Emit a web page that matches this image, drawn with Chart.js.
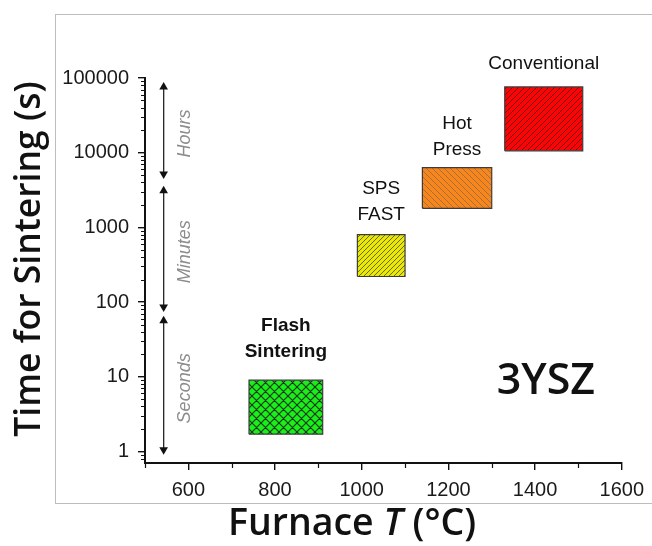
<!DOCTYPE html>
<html>
<head>
<meta charset="utf-8">
<script src="https://cdn.jsdelivr.net/npm/chart.js@4.4.1/dist/chart.umd.min.js"></script>
<style>
  html, body { margin: 0; padding: 0; background: #fff; }
  canvas { display: block; }
</style>
</head>
<body>
<canvas id="chart" width="652" height="546"></canvas>
<script>
// Sintering methods (one box each)
const methods = ['Flash Sintering', 'SPS FAST', 'Hot Press', 'Conventional'];
const labelLines = [['Flash', 'Sintering'], ['SPS', 'FAST'], ['Hot', 'Press'], ['Conventional']];
const tempMin = [740, 990, 1140, 1330];
const tempMax = [910, 1100, 1300, 1510];
const timeMin = [1.7, 220, 1800, 10600];
const timeMax = [9, 800, 6300, 76000];

// Time-scale arrows on the left
const spanNames = ['Hours', 'Minutes', 'Seconds'];
const spanTop = [76000, 3100, 56];
const spanBottom = [5200, 86, 1.05];
const spanTemp = 543;

// Tick labels
const xTickLabels = [600, 800, 1000, 1200, 1400, 1600];
const yTickLabels = [1, 10, 100, 1000, 10000, 100000];

// Hatch patterns
function hatch(bg, line, size, width, dirs) {
    const c = document.createElement('canvas');
    c.width = size;
    c.height = size;
    const g = c.getContext('2d');
    g.fillStyle = bg;
    g.fillRect(0, 0, size, size);
    g.strokeStyle = line;
    g.lineWidth = width;
    g.beginPath();
    if (dirs.includes('/')) {
        g.moveTo(0, size); g.lineTo(size, 0);
        g.moveTo(-2, 2); g.lineTo(2, -2);
        g.moveTo(size - 2, size + 2); g.lineTo(size + 2, size - 2);
    }
    if (dirs.includes('\\')) {
        g.moveTo(0, 0); g.lineTo(size, size);
        g.moveTo(-2, size - 2); g.lineTo(2, size + 2);
        g.moveTo(size - 2, -2); g.lineTo(size + 2, 2);
    }
    g.stroke();
    return g.createPattern(c, 'repeat');
}

const ctx0 = document.getElementById('chart').getContext('2d');
const fills = [
    hatch('#19f019', '#173017', 9, 1.1, '/\\'),
    hatch('#e8e80a', '#6e6a10', 5, 1, '/'),
    hatch('#f7861c', '#a86f3c', 6, 1, '\\'),
    hatch('#fa0505', '#7a0c0c', 6, 1, '/')
];

function boxData(i) {
    return [
        {x: tempMin[i], y: timeMin[i]},
        {x: tempMax[i], y: timeMin[i]},
        {x: tempMax[i], y: timeMax[i]},
        {x: tempMin[i], y: timeMax[i]},
        {x: tempMin[i], y: timeMin[i]}
    ];
}

const boxSets = methods.map((name, i) => ({
    label: name,
    data: boxData(i),
    fill: 'shape',
    backgroundColor: fills[i],
    borderColor: '#3c3c3c',
    borderWidth: 1.2,
    pointRadius: 0,
    tension: 0
}));

const arrowSets = spanNames.map((name, i) => ({
    label: name,
    data: [{x: spanTemp, y: spanTop[i]}, {x: spanTemp, y: spanBottom[i]}],
    fill: false,
    borderColor: '#2a2a2a',
    borderWidth: 1,
    pointStyle: 'triangle',
    pointRadius: 5,
    pointRotation: [0, 180],
    pointBackgroundColor: '#111',
    pointBorderColor: '#111',
    pointBorderWidth: 0
}));

function isPow10(v) {
    const l = Math.log10(v);
    return Math.abs(l - Math.round(l)) < 1e-9;
}

// Décor : cadre, petits ticks, étiquettes, titres
const decor = {
    id: 'decor',
    beforeDraw(chart) {
        const c = chart.ctx;
        c.save();
        c.fillStyle = '#fff';
        c.fillRect(0, 0, chart.width, chart.height);
        c.strokeStyle = '#bdbdbd';
        c.lineWidth = 1;
        c.strokeRect(55.5, 14.5, 700, 489);
        c.restore();
    },
    afterDraw(chart) {
        const c = chart.ctx;
        const xs = chart.scales.x, ys = chart.scales.y;
        const area = chart.chartArea;
        c.save();

        // minor ticks
        c.strokeStyle = '#111';
        c.lineWidth = 1.2;
        c.beginPath();
        ys.ticks.forEach(t => {
            if (isPow10(t.value)) return;
            const py = Math.round(ys.getPixelForValue(t.value)) + 0.5;
            c.moveTo(area.left, py);
            c.lineTo(area.left - 4, py);
        });
        xs.ticks.forEach(t => {
            if (xTickLabels.includes(t.value)) return;
            const px = Math.round(xs.getPixelForValue(t.value)) + 0.5;
            c.moveTo(px, area.bottom);
            c.lineTo(px, area.bottom + 5);
        });
        c.stroke();

        // box labels
        const gaps = [28, 20, 18, 23];
        c.fillStyle = '#111';
        c.textAlign = 'center';
        c.textBaseline = 'middle';
        labelLines.forEach((lines, i) => {
            c.font = (i === 0 ? 'bold ' : '') + '19px "Liberation Sans", Arial, sans-serif';
            const cx = xs.getPixelForValue((tempMin[i] + tempMax[i]) / 2);
            const top = ys.getPixelForValue(timeMax[i]);
            const n = lines.length;
            lines.forEach((txt, k) => {
                c.fillText(txt, cx, top - gaps[i] - (n - 1 - k) * 26);
            });
        });

        // rotated span labels
        c.fillStyle = '#8c8c8c';
        c.font = 'italic 18px "Liberation Sans", Arial, sans-serif';
        spanNames.forEach((name, i) => {
            const mid = Math.sqrt(spanTop[i] * spanBottom[i]);
            c.save();
            c.translate(xs.getPixelForValue(spanTemp) + 21, ys.getPixelForValue(mid) + 3);
            c.rotate(-Math.PI / 2);
            c.fillText(name, 0, 0);
            c.restore();
        });

        // 3YSZ
        c.fillStyle = '#111';
        c.font = '600 43px "Open Sans", sans-serif';
        c.fillText('3YSZ', xs.getPixelForValue(1425), ys.getPixelForValue(8.6));

        // axis titles
        c.font = '600 35.5px "Open Sans", sans-serif';
        c.save();
        c.translate(30, 259);
        c.rotate(-Math.PI / 2);
        c.fillText('Time for Sintering (s)', 0, 0);
        c.restore();

        const parts = [
            ['Furnace ', '600 37.5px "Open Sans", sans-serif'],
            ['T', 'italic 600 37.5px "Open Sans", sans-serif'],
            [' (°C)', '600 37.5px "Open Sans", sans-serif']
        ];
        let total = 0;
        parts.forEach(p => { c.font = p[1]; total += c.measureText(p[0]).width; });
        let px = 352 - total / 2;
        c.textAlign = 'left';
        c.textBaseline = 'alphabetic';
        parts.forEach(p => {
            c.font = p[1];
            c.fillText(p[0], px, 535);
            px += c.measureText(p[0]).width;
        });
        c.restore();
    }
};

const tickFont = { family: '"Liberation Sans", Arial, sans-serif', size: 20 };

new Chart(ctx0, {
    type: 'line',
    data: { datasets: [...boxSets, ...arrowSets] },
    options: {
        responsive: false,
        animation: false,
        devicePixelRatio: 1,
        layout: { padding: { left: 0, top: 78, right: 29, bottom: 0 } },
        plugins: {
            legend: { display: false },
            tooltip: { enabled: false }
        },
        scales: {
            x: {
                type: 'linear',
                min: 500,
                max: 1600,
                afterFit: s => { s.height = 83; },
                ticks: {
                    stepSize: 100,
                    autoSkip: false,
                    maxRotation: 0,
                    padding: 8,
                    color: '#1a1a1a',
                    font: tickFont,
                    callback: v => xTickLabels.includes(v) ? String(v) : ''
                },
                grid: {
                    drawOnChartArea: false,
                    tickLength: 7,
                    lineWidth: 1.4,
                    color: c => (c.tick && xTickLabels.includes(c.tick.value)) ? '#111' : 'rgba(0,0,0,0)'
                },
                border: { color: '#111', width: 2 }
            },
            y: {
                type: 'logarithmic',
                min: 0.736,
                max: 100000,
                afterFit: s => { s.width = 145; },
                afterBuildTicks: s => {
                    const t = [];
                    for (let e = -1; e <= 4; e++) {
                        for (let m = 1; m <= 9; m++) {
                            const v = Number((m * Math.pow(10, e)).toPrecision(6));
                            if (v >= 0.736 && v <= 100000) t.push({ value: v });
                        }
                    }
                    t.push({ value: 100000 });
                    s.ticks = t;
                },
                ticks: {
                    autoSkip: false,
                    padding: 9,
                    color: '#1a1a1a',
                    font: tickFont,
                    callback: v => yTickLabels.includes(v) ? String(v) : ''
                },
                grid: {
                    drawOnChartArea: false,
                    tickLength: 7,
                    lineWidth: 1.4,
                    color: c => (c.tick && isPow10(c.tick.value)) ? '#111' : 'rgba(0,0,0,0)'
                },
                border: { color: '#111', width: 2 }
            }
        }
    },
    plugins: [decor]
});
</script>
</body>
</html>
